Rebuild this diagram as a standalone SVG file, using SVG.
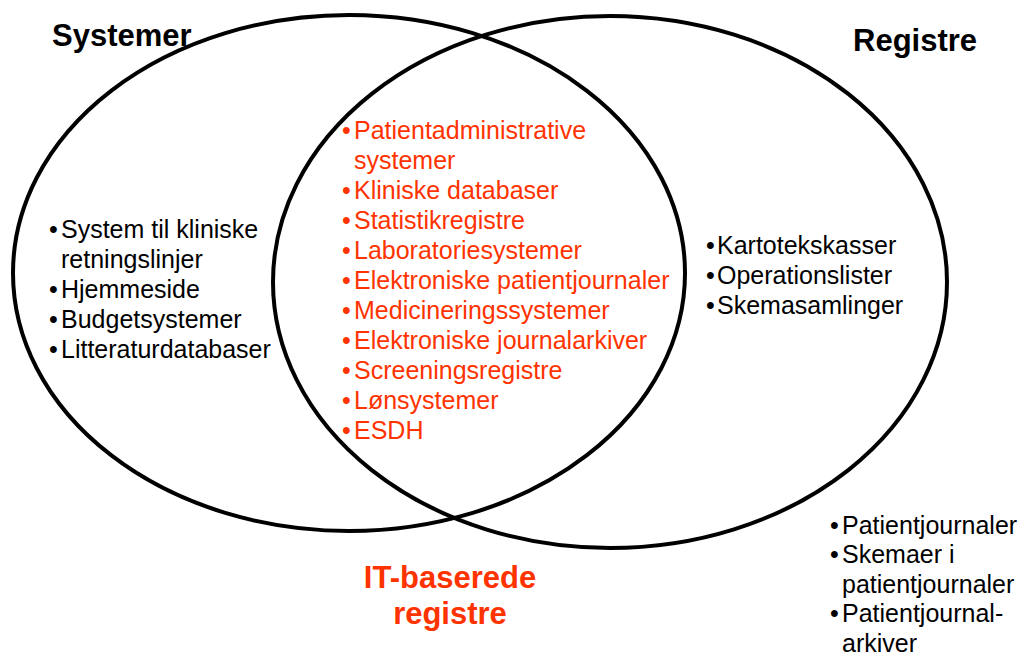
<svg xmlns="http://www.w3.org/2000/svg" width="1020" height="657" viewBox="0 0 1020 657">
<style>
.ring{fill:none;stroke:#000;stroke-width:4}
.t{font-family:"Liberation Sans",Arial,Helvetica,sans-serif;font-size:25px;fill:#000}
.r{fill:#FF3300}
.h{font-family:"Liberation Sans",Arial,Helvetica,sans-serif;font-size:31px;font-weight:bold;fill:#000}
.hr{fill:#FF3300;text-anchor:middle}
</style>
<rect width="1020" height="657" fill="#fff"/>
<g id="set-systemer">
<ellipse class="ring" cx="349" cy="273" rx="336" ry="258"/>
<text class="h" x="52" y="46">Systemer</text>
<g class="t">
<text x="49" y="238">•</text><text x="61" y="238">System til kliniske</text>
<text x="61" y="268">retningslinjer</text>
<text x="49" y="298">•</text><text x="61" y="298">Hjemmeside</text>
<text x="49" y="328">•</text><text x="61" y="328">Budgetsystemer</text>
<text x="49" y="358">•</text><text x="61" y="358">Litteraturdatabaser</text>
</g>
</g>
<g id="set-registre">
<ellipse class="ring" cx="610" cy="282" rx="337" ry="266"/>
<text class="h" x="853" y="51">Registre</text>
<g class="t">
<text x="706" y="254">•</text><text x="717" y="254">Kartotekskasser</text>
<text x="706" y="284">•</text><text x="717" y="284">Operationslister</text>
<text x="706" y="314">•</text><text x="717" y="314">Skemasamlinger</text>
</g>
</g>
<g id="overlap">
<g class="t r">
<text x="342" y="139">•</text><text x="354" y="139">Patientadministrative</text>
<text x="354" y="169">systemer</text>
<text x="342" y="199">•</text><text x="354" y="199">Kliniske databaser</text>
<text x="342" y="229">•</text><text x="354" y="229">Statistikregistre</text>
<text x="342" y="259">•</text><text x="354" y="259">Laboratoriesystemer</text>
<text x="342" y="289">•</text><text x="354" y="289">Elektroniske patientjournaler</text>
<text x="342" y="319">•</text><text x="354" y="319">Medicineringssystemer</text>
<text x="342" y="349">•</text><text x="354" y="349">Elektroniske journalarkiver</text>
<text x="342" y="379">•</text><text x="354" y="379">Screeningsregistre</text>
<text x="342" y="409">•</text><text x="354" y="409">Lønsystemer</text>
<text x="342" y="439">•</text><text x="354" y="439">ESDH</text>
</g>
<text class="h hr" x="450" y="588">IT-baserede</text>
<text class="h hr" x="450" y="624">registre</text>
</g>
<g id="outside">
<g class="t">
<text x="830" y="534">•</text><text x="842" y="534">Patientjournaler</text>
<text x="830" y="563">•</text><text x="842" y="563">Skemaer i</text>
<text x="842" y="593">patientjournaler</text>
<text x="830" y="622">•</text><text x="842" y="622">Patientjournal-</text>
<text x="842" y="652">arkiver</text>
</g>
</g>
<g id="connectors"/>
</svg>
